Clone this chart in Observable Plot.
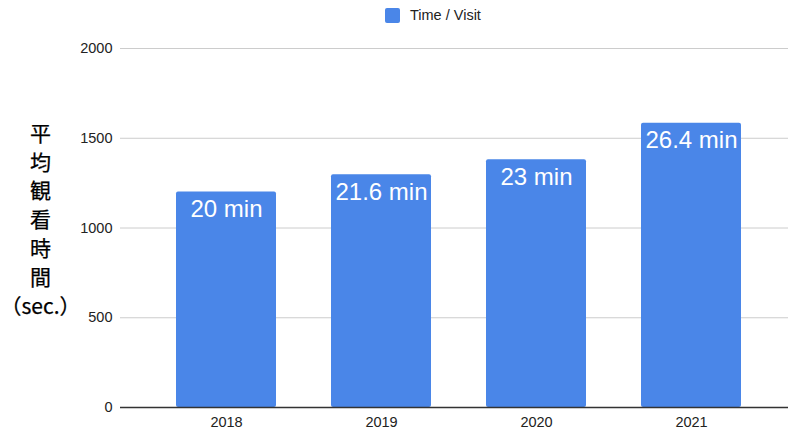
<!DOCTYPE html>
<html>
<head>
<meta charset="utf-8">
<script src="https://cdn.jsdelivr.net/npm/d3@7"></script>
<script src="https://cdn.jsdelivr.net/npm/@observablehq/plot@0.6"></script>
<style>
  html, body { margin: 0; padding: 0; background: #fff; }
  #wrap { width: 788px; height: 431px; position: relative; overflow: hidden; font-family: "Liberation Sans", Arial, sans-serif; }
  #legend { position: relative; height: 30px; }
  #legend .sw { position: absolute; left: 385px; top: 8px; width: 15px; height: 15px; background: #4a86e8; border-radius: 2px; }
  #legend .lb { position: absolute; left: 410px; top: 6px; font-size: 14.5px; color: #222; line-height: 18px; }
  svg { display: block; }
</style>
</head>
<body>
<div id="wrap">
  <div id="legend"><div class="sw"></div><div class="lb">Time / Visit</div></div>
  <div id="chart"></div>
</div>
<script>
const years = ["2018", "2019", "2020", "2021"];
const seconds = [1200, 1296, 1380, 1584];
const labels = ["20 min", "21.6 min", "23 min", "26.4 min"];
const yTicks = [0, 500, 1000, 1500, 2000];
const yTitleLines = ["平", "均", "観", "看", "時", "間", "（sec.）"];

const data = years.map((year, i) => ({year, sec: seconds[i], label: labels[i]}));

const chart = Plot.plot({
  width: 788,
  height: 401,
  marginTop: 18,
  marginBottom: 24,
  marginLeft: 120,
  marginRight: 0,
  style: {fontFamily: '"Liberation Sans", Arial, sans-serif', fontSize: "14.5px", color: "#222", background: "white"},
  x: {domain: years, paddingInner: 0.355, paddingOuter: 0.33, align: 0.54, label: null, tickSize: 0, tickPadding: 9},
  y: {domain: [0, 2000], ticks: yTicks, tickFormat: d => String(d), label: null, tickSize: 0, tickPadding: 8},
  marks: [
    Plot.ruleY(yTicks.filter(d => d > 0), {stroke: "#cccccc", strokeWidth: 1}),
    Plot.barY(data, {x: "year", y: "sec", fill: "#4a86e8", rx: 2}),
    Plot.ruleY([0], {stroke: "#333333", strokeWidth: 1.5}),
    Plot.text(data, {x: "year", y: "sec", text: "label", fill: "white", fontSize: 24, lineAnchor: "top", dy: 8}),
    Plot.text([yTitleLines.join("\n")], {
      frameAnchor: "left", dx: -80, dy: -10, textAnchor: "middle",
      fontSize: 21, lineHeight: 1.37, fontWeight: "normal", fill: "#000",
      stroke: "#000", strokeWidth: 0.25,
      fontFamily: '"Noto Sans CJK JP", sans-serif'
    })
  ]
});
document.getElementById("chart").appendChild(chart);
</script>
</body>
</html>
